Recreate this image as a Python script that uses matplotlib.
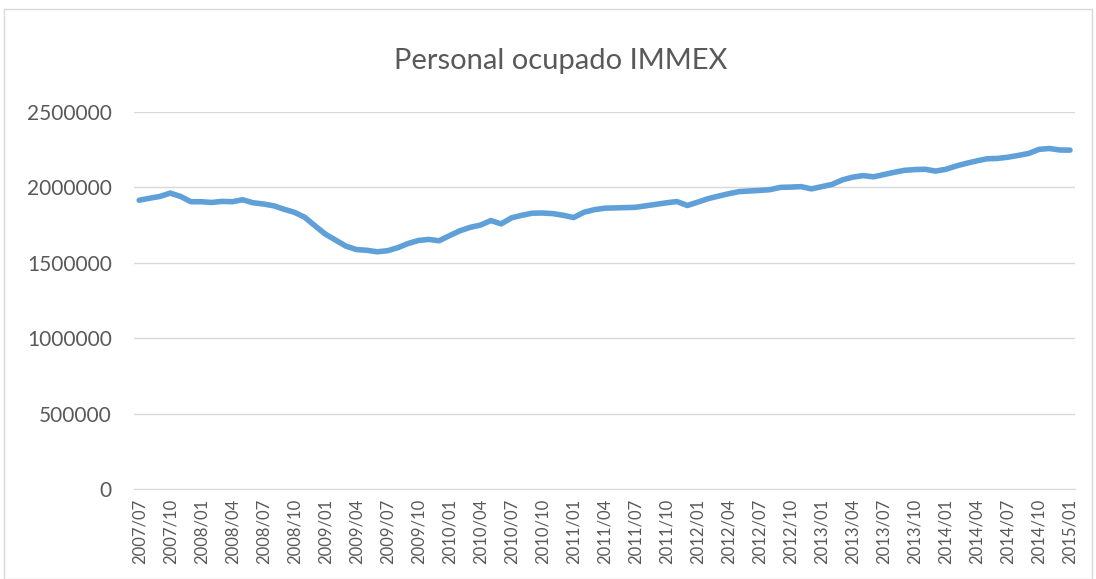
import matplotlib
matplotlib.use("Agg")
import matplotlib.pyplot as plt
from matplotlib.patches import Rectangle

title = "Personal ocupado IMMEX"

# Monthly values 2007/07 .. 2015/01 (91 months)
personal = [
    1915000, 1928000, 1940000, 1962000, 1940000, 1905000, 1905000, 1900000,
    1907000, 1905000, 1918000, 1898000, 1890000, 1878000, 1855000, 1835000,
    1802000, 1745000, 1690000, 1650000, 1610000, 1588000, 1583000, 1573000,
    1580000, 1600000, 1628000, 1648000, 1655000, 1646000, 1680000, 1712000,
    1735000, 1750000, 1780000, 1758000, 1798000, 1815000, 1829000, 1830000,
    1826000, 1815000, 1800000, 1835000, 1852000, 1862000, 1864000, 1866000,
    1868000, 1878000, 1888000, 1898000, 1906000, 1880000, 1902000, 1925000,
    1942000, 1958000, 1972000, 1976000, 1980000, 1985000, 2000000, 2002000,
    2005000, 1990000, 2005000, 2020000, 2050000, 2068000, 2078000, 2070000,
    2085000, 2100000, 2113000, 2118000, 2120000, 2108000, 2120000, 2142000,
    2160000, 2176000, 2190000, 2192000, 2200000, 2212000, 2225000, 2252000,
    2258000, 2248000, 2247000,
]

tick_labels = [
    "2007/07", "2007/10", "2008/01", "2008/04", "2008/07", "2008/10",
    "2009/01", "2009/04", "2009/07", "2009/10", "2010/01", "2010/04",
    "2010/07", "2010/10", "2011/01", "2011/04", "2011/07", "2011/10",
    "2012/01", "2012/04", "2012/07", "2012/10", "2013/01", "2013/04",
    "2013/07", "2013/10", "2014/01", "2014/04", "2014/07", "2014/10",
    "2015/01",
]
y_ticks = [0, 500000, 1000000, 1500000, 2000000, 2500000]

plt.rcParams['font.family'] = ['Lato', 'DejaVu Sans']

fig = plt.figure(figsize=(10.96, 5.79), dpi=100)
fig.patch.set_facecolor("white")
fig.patches.append(Rectangle((0.004, 0.0), 0.992, 0.985, transform=fig.transFigure,
                             fill=False, edgecolor="#d9d9d9", linewidth=1.0))

ax = fig.add_axes([0.1223, 0.1554, 0.8587, 0.6512])
x = list(range(len(personal)))
ax.plot(x, personal, color="#5fa0d8", linewidth=4.0, solid_capstyle="round",
        solid_joinstyle="round", zorder=3)

ax.set_xlim(-0.5, len(personal) - 0.5)
ax.set_ylim(0, 2500000)
ax.set_yticks(y_ticks)
ax.set_yticklabels([str(v) for v in y_ticks])
ax.set_xticks(list(range(0, len(personal), 3)))
ax.set_xticklabels(tick_labels, rotation=90)

ax.grid(axis="y", color="#d9d9d9", linewidth=1.0)
ax.set_axisbelow(True)
for s in ["top", "right", "left"]:
    ax.spines[s].set_visible(False)
ax.spines["bottom"].set_color("#d9d9d9")
ax.tick_params(axis="both", length=0, colors="#595959")
ax.tick_params(axis="y", labelsize=15, pad=16)
ax.tick_params(axis="x", labelsize=12, pad=7)

fig.text(0.512, 0.895, title, ha="center", va="center", fontsize=21,
         color="#595959")

fig.savefig("out.png", dpi=100)
